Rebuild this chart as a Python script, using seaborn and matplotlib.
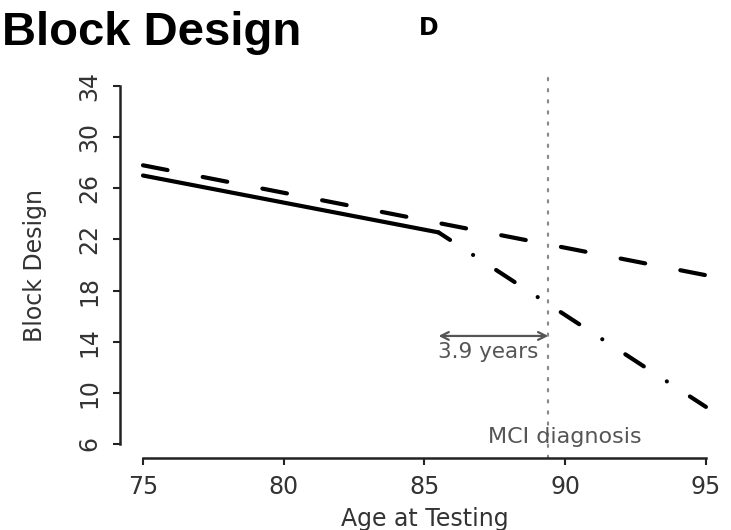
import matplotlib
matplotlib.use("Agg")
import matplotlib.pyplot as plt
import seaborn as sns
import numpy as np

# ---- data ----
age_normal = [75, 95]
score_normal = [27.8, 19.2]          # dashed: cognitively normal

age_preclinical = [75, 85.5]
score_preclinical = [27.0, 22.55]    # solid: before change point

age_decline = [85.5, 95]
score_decline = [22.55, 8.9]         # dash-dot: accelerated decline

mci_age = 89.4
change_age = 85.5
gap_label = "3.9 years"

x_ticks = [75, 80, 85, 90, 95]
y_ticks = [6, 10, 14, 18, 22, 26, 30, 34]

sns.set_theme(style="white")
plt.rcParams['font.family'] = ['DejaVu Sans']

fig = plt.figure(figsize=(7.31, 5.30), dpi=100)
ax = fig.add_axes([0.1648, 0.1353, 0.8317, 0.7294])
ax.set_facecolor("white")

sns.lineplot(x=age_normal, y=score_normal, color="black", lw=3, ax=ax)
ax.lines[-1].set_linestyle((0, (6, 8.6)))
ax.lines[-1].set_dash_capstyle("round")
ax.lines[-1].set_solid_capstyle("round")

sns.lineplot(x=age_preclinical, y=score_preclinical, color="black", lw=3, ax=ax)
ax.lines[-1].set_solid_capstyle("round")

sns.lineplot(x=age_decline, y=score_decline, color="black", lw=3, ax=ax)
ax.lines[-1].set_linestyle((2, (5.3, 6.6, 0.01, 6.6)))
ax.lines[-1].set_dash_capstyle("round")

ax.axvline(mci_age, color="#8a8a8a", lw=1.6, linestyle=(0, (1, 4)),
           dash_capstyle="round")

ax.annotate("", xy=(change_age, 14.45), xytext=(mci_age, 14.45),
            arrowprops=dict(arrowstyle="<->", color="#555555", lw=1.6,
                            mutation_scale=14, shrinkA=0, shrinkB=0))
ax.text(change_age - 0.02, 12.7, gap_label, ha="left", va="baseline",
        fontsize=15.5, color="#555555")
ax.text(90.0, 6.1, "MCI diagnosis", ha="center", va="baseline",
        fontsize=16, color="#555555")

ax.set_xlim(74.2, 95.8)
ax.set_ylim(4.88, 35.12)
ax.set_xticks(x_ticks)
ax.set_yticks(y_ticks)
ax.set_xticklabels([str(v) for v in x_ticks])
ax.set_yticklabels([str(v) for v in y_ticks])

for s in ["top", "right"]:
    ax.spines[s].set_visible(False)
ax.spines["left"].set_bounds(6, 34)
ax.spines["bottom"].set_bounds(75, 95)
for s in ["left", "bottom"]:
    ax.spines[s].set_color("#222222")
    ax.spines[s].set_linewidth(1.8)

ax.tick_params(axis="both", which="major", length=5, width=1.5,
               color="#222222", labelcolor="#333333", labelsize=17,
               direction="out", bottom=True, left=True)
ax.tick_params(axis="x", pad=7)
ax.tick_params(axis="y", pad=8.5, labelrotation=90)
for lab in ax.get_yticklabels():
    lab.set_va("center")

ax.set_xlabel("Age at Testing", fontsize=17, color="#333333")
ax.set_ylabel("Block Design", fontsize=17, color="#333333")
ax.xaxis.set_label_coords(0.5, -0.126)
ax.yaxis.set_label_coords(-0.121, 0.5)
ax.grid(False)

fig.text(0.003, 1 - 45 / 530, "Block Design", ha="left", va="baseline",
         fontsize=34, fontweight="bold", color="black",
         family=["Liberation Sans", "DejaVu Sans"])
fig.text(429 / 731, 1 - 35 / 530, "D", ha="center", va="baseline",
         fontsize=17, fontweight="bold", color="black", family=["DejaVu Sans"])

fig.savefig("out.png", dpi=100, facecolor="white")
